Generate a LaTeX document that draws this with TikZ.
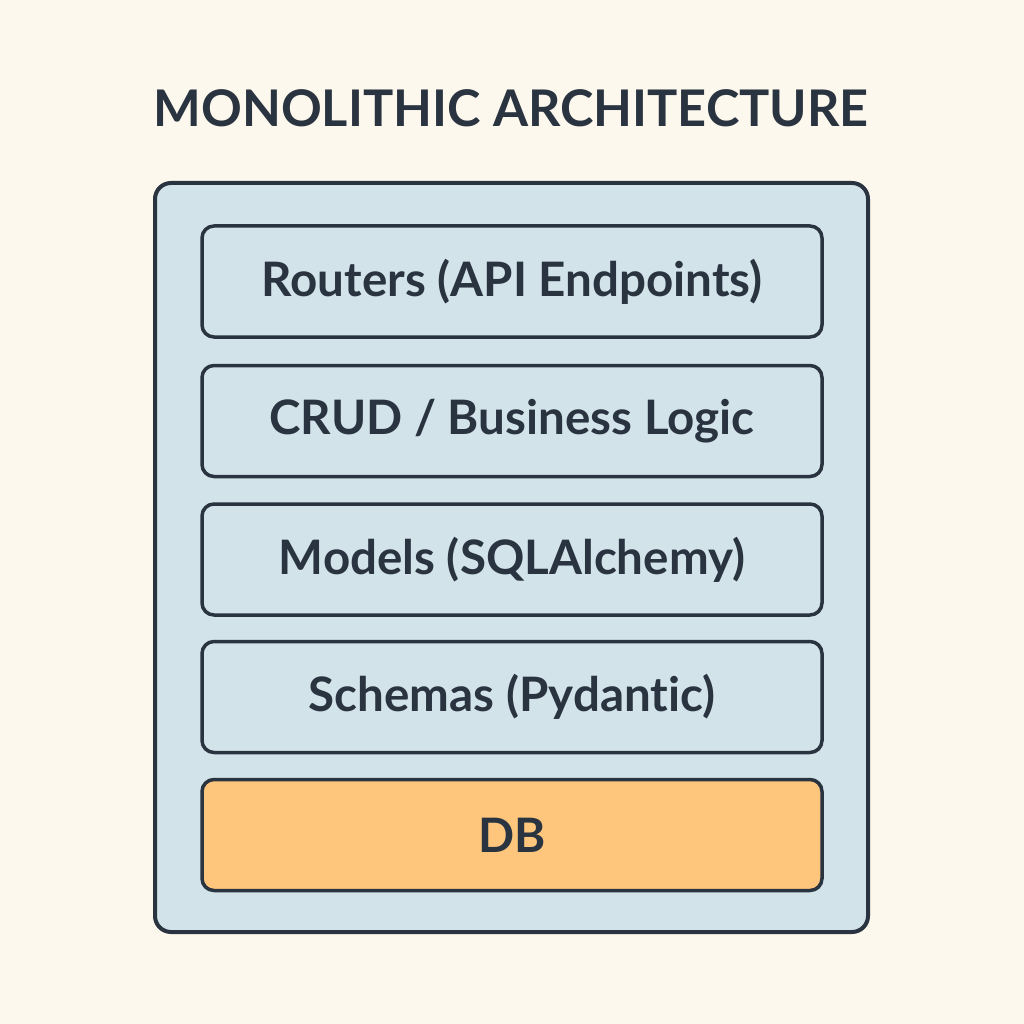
\documentclass[tikz,border=0pt]{standalone}
\usepackage{fontspec}
\setmainfont{Lato}[Ligatures={NoCommon}]
\definecolor{bgc}{HTML}{FDF8EE}
\definecolor{ink}{HTML}{2A3440}
\definecolor{panel}{HTML}{D3E3EA}
\definecolor{dbc}{HTML}{FEC67C}
\tikzset{
  layer/.style={draw=ink, line width=3.5pt, rounded corners=12pt, fill=panel,
    minimum width=620pt, minimum height=111pt, inner sep=0pt,
    font=\fontsize{47.5}{56}\selectfont\bfseries, text=ink},
}
\begin{document}
\begin{tikzpicture}[x=1pt,y=-1pt]
\useasboundingbox[fill=bgc] (0,0) rectangle (1024,1024);
\node[font=\fontsize{50.5}{60}\selectfont\bfseries, text=ink] (title) at (511,108) {MONOLITHIC ARCHITECTURE};
\node[draw=ink, line width=4pt, rounded corners=16pt, fill=panel, minimum width=713pt, minimum height=749pt] (outer) at (511.5,557.5) {};
\node[layer] (routers) at (512,281.5) {Routers (API Endpoints)};
\node[layer] (crud) at (512,421) {CRUD / Business Logic};
\node[layer] (models) at (512,559.5) {Models (SQLAlchemy)};
\node[layer] (schemas) at (512,697) {Schemas (Pydantic)};
\node[layer, fill=dbc] (db) at (512,835) {DB};
\end{tikzpicture}
\end{document}
